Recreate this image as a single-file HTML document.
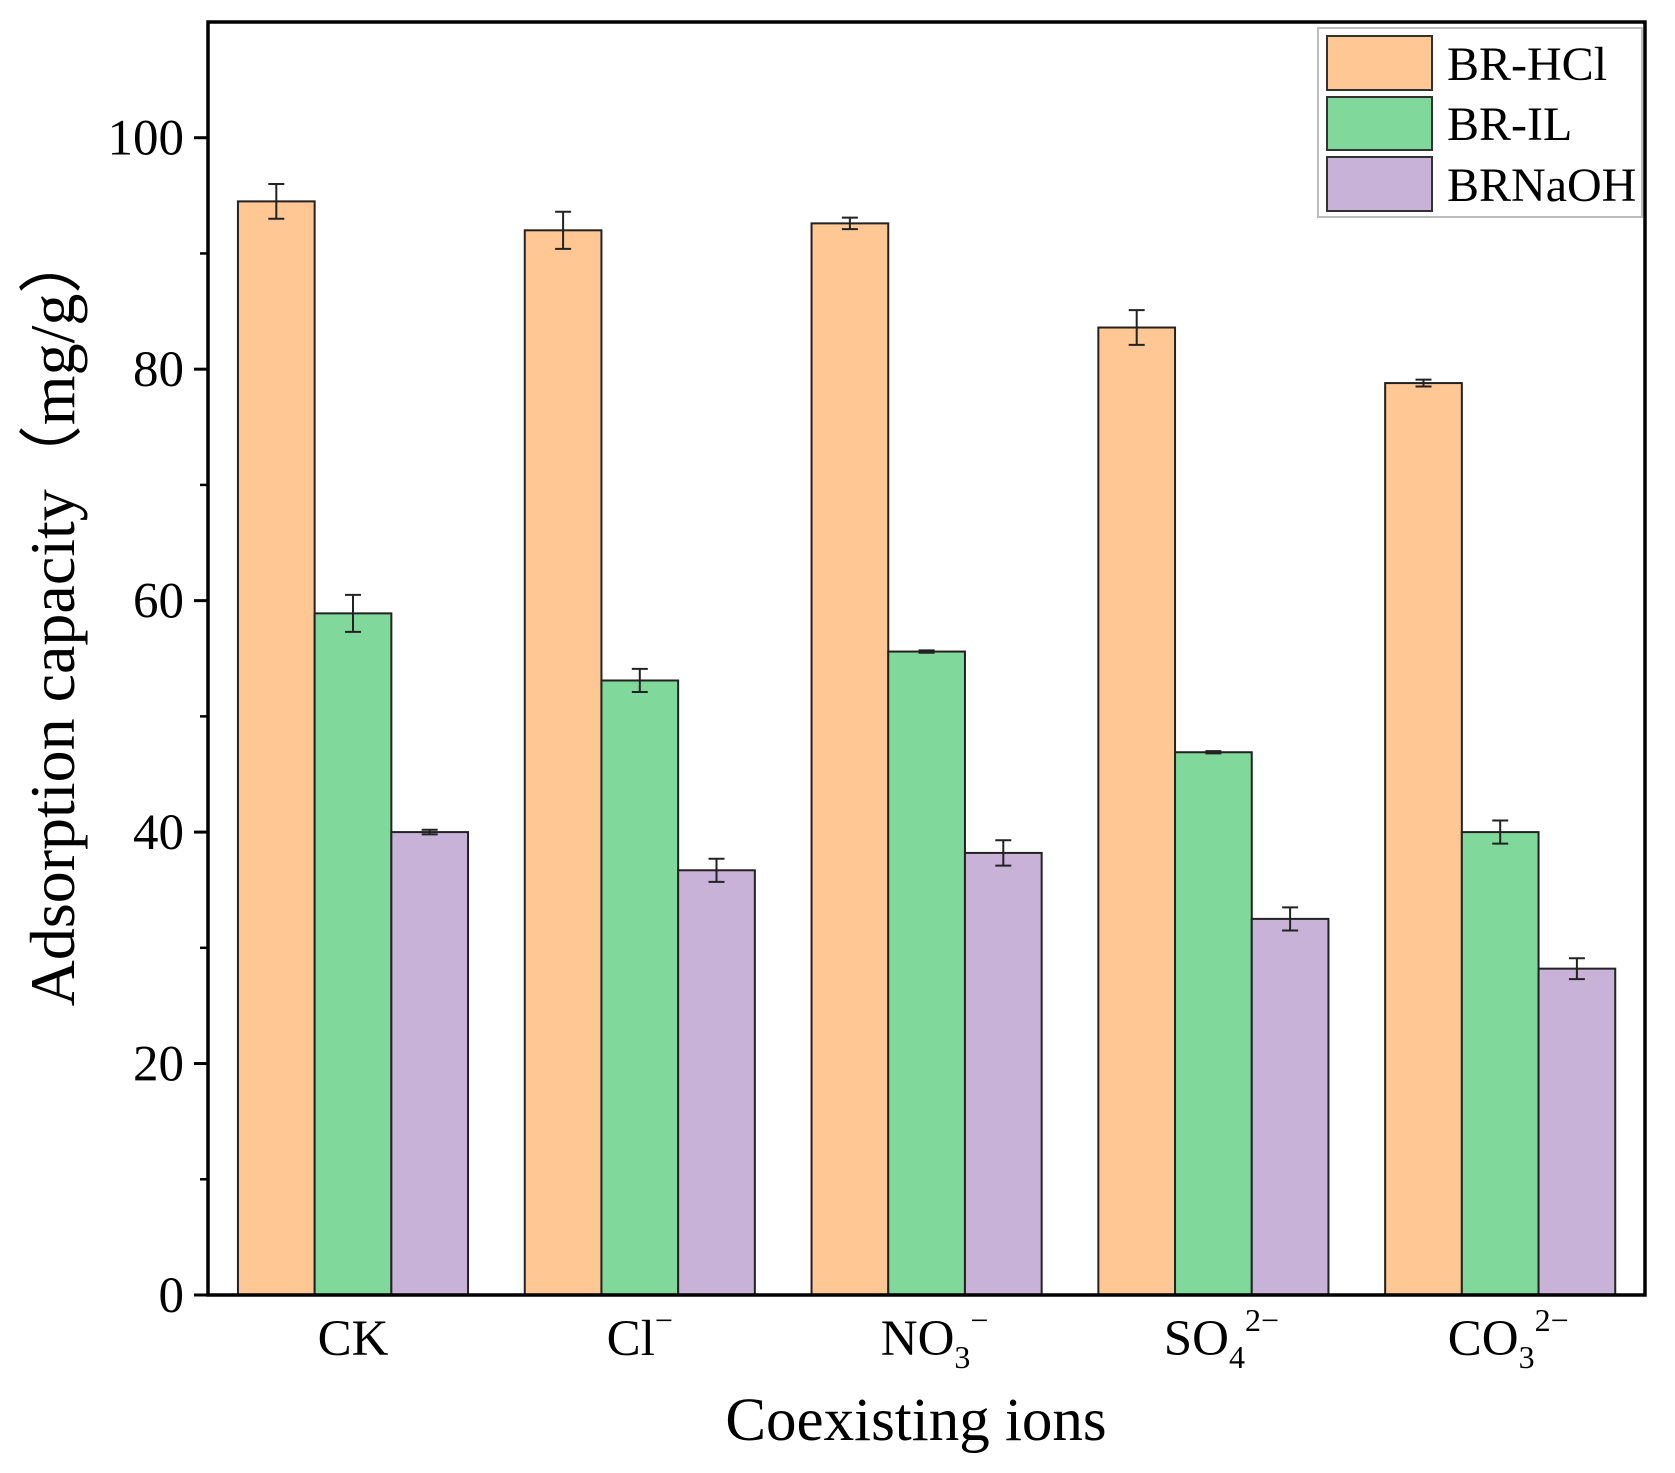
<!DOCTYPE html>
<html><head><meta charset="utf-8"><style>
body{margin:0;background:#fff}
svg{display:block;font-family:"Liberation Serif",serif}
</style></head><body>
<svg id="chart" width="1675" height="1473" viewBox="0 0 1675 1473" xmlns="http://www.w3.org/2000/svg">
<g id="plot"></g>
<text x="916" y="1440" font-size="61" text-anchor="middle">Coexisting ions</text>
<text transform="translate(74,618) rotate(-90)" font-size="64" text-anchor="middle">Adsorption capacity（mg/g）</text>
<g>
<rect x="1318" y="28" width="324" height="189" fill="#fff" stroke="#bbb" stroke-width="2"/>
<rect x="1327" y="36" width="105" height="54" fill="#ffc793" stroke="#333" stroke-width="2"/>
<text x="1447" y="80" font-size="48">BR-HCl</text>
<rect x="1327" y="97" width="105" height="53" fill="#80d99a" stroke="#333" stroke-width="2"/>
<text x="1447" y="140" font-size="48">BR-IL</text>
<rect x="1327" y="157" width="105" height="54" fill="#c9b2d8" stroke="#333" stroke-width="2"/>
<text x="1447" y="201" font-size="48">BRNaOH</text>
</g>
</svg>
<script>
const categories=["CK","Cl","NO3","SO4","CO3"];
const hclValues=[94.5,92,92.6,83.6,78.8];
const ilValues=[58.9,53.1,55.6,46.9,40];
const naohValues=[40,36.7,38.2,32.5,28.2];
const hclErr=[1.5,1.6,0.5,1.5,0.3];
const ilErr=[1.6,1.0,0.1,0.1,1.0];
const naohErr=[0.2,1.0,1.1,1.0,0.9];
const yTicks=[0,20,40,60,80,100];
const NS="http://www.w3.org/2000/svg";
const X0=208,X1=1645,Y0=1295,YT=22,YMAX=110;
const step=286.8,barW=76.7,firstC=353;
function xs(i){return firstC+i*step;}
function ys(v){return Y0-(v/YMAX)*(Y0-YT);}
const plot=document.getElementById('plot');
function mk(tag,attrs){const e=document.createElementNS(NS,tag);for(const k in attrs)e.setAttribute(k,attrs[k]);plot.appendChild(e);return e;}
const series=[{v:hclValues,e:hclErr,c:"#ffc793",n:"br-hcl"},{v:ilValues,e:ilErr,c:"#80d99a",n:"br-il"},{v:naohValues,e:naohErr,c:"#c9b2d8",n:"brnaoh"}];
series.forEach((s,si)=>{
  categories.forEach((cat,i)=>{
    const x=xs(i)+(si-1.5)*barW;
    const r=mk('rect',{x:x,y:ys(s.v[i]),width:barW,height:Y0-ys(s.v[i]),fill:s.c,stroke:"#222","stroke-width":2});
    
    
    const cx=x+barW/2,yt=ys(s.v[i]+s.e[i]),yb=ys(s.v[i]-s.e[i]);
    const eb=mk('path',{d:`M${cx},${yt}V${yb}M${cx-8},${yt}H${cx+8}M${cx-8},${yb}H${cx+8}`,stroke:"#222","stroke-width":2,fill:"none"});
    
    
  });
});
const frame=mk('rect',{x:X0,y:YT,width:X1-X0,height:Y0-YT,fill:"none",stroke:"#000","stroke-width":3.5});


yTicks.forEach(t=>{
  const tk=mk('line',{x1:X0-14,x2:X0,y1:ys(t),y2:ys(t),stroke:"#000","stroke-width":3});
  
  
  const tl=mk('text',{x:X0-24,y:ys(t)+17,"font-size":51,"text-anchor":"end"});
  tl.textContent=t;
  
  
  if(t<100){const m=mk('line',{x1:X0-8,x2:X0,y1:ys(t+10),y2:ys(t+10),stroke:"#000","stroke-width":2.5});
  
  }
});
const labels=['CK','Cl<tspan font-size="32" dy="-24">−</tspan>','NO<tspan font-size="32" dy="13">3</tspan><tspan font-size="32" dy="-37">−</tspan>','SO<tspan font-size="32" dy="13">4</tspan><tspan font-size="32" dy="-37">2−</tspan>','CO<tspan font-size="32" dy="13">3</tspan><tspan font-size="32" dy="-37">2−</tspan>'];
categories.forEach((c,i)=>{
  const t=mk('text',{x:xs(i)+(i>1?8:0),y:1355,"font-size":51,"text-anchor":"middle"});
  t.innerHTML=labels[i];
  
  
});
</script>
</body></html>
